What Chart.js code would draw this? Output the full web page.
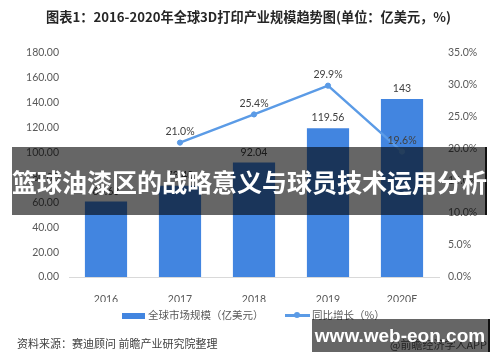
<!DOCTYPE html>
<html><head><meta charset="utf-8">
<script src="https://cdn.jsdelivr.net/npm/chart.js@4/dist/chart.umd.min.js"></script>
<style>
html,body{margin:0;padding:0;background:#fff;}
#wrap{position:relative;width:500px;height:362px;overflow:hidden;font-family:"Noto Sans CJK SC","Noto Sans",sans-serif;}
canvas{position:absolute;left:0;top:0;}
.abs{position:absolute;white-space:nowrap;}
#title{left:0;width:497px;top:7px;text-align:center;font-size:13.2px;font-weight:bold;color:#262626;line-height:20px;}
#src{left:17px;top:335px;font-size:11px;color:#404040;line-height:16px;}
#app{left:390px;top:336px;font-size:11px;color:#595959;line-height:16px;}
.leg{font-size:10.5px;color:#595959;line-height:14px;top:308px;}
#sw1{position:absolute;left:122px;top:313px;width:23px;height:6px;background:#4285e0;}
#sw2{position:absolute;left:285px;top:314px;width:25px;height:2.5px;background:#5b9be6;}
#sw2d{position:absolute;left:294px;top:312px;width:6px;height:6px;border-radius:3px;background:#5b9be6;}
#banner{left:12px;top:147px;width:473px;height:68px;background:rgba(0,0,0,0.6);border-right:2px solid #111;color:#fff;font-weight:bold;font-size:25px;line-height:68px;text-align:center;}
#wm{left:312px;top:319px;width:176px;height:33px;background:rgba(0,0,0,0.6);border-right:2px solid #111;color:#fff;font-weight:bold;font-family:"Liberation Sans",sans-serif;font-size:19px;line-height:33px;text-align:center;}
</style></head>
<body><div id="wrap">
<canvas id="c" width="500" height="362"></canvas>
<div id="title" class="abs">图表1：2016-2020年全球3D打印产业规模趋势图(单位：亿美元，%)</div>
<div id="sw1"></div><div class="abs leg" style="left:148px;">全球市场规模（亿美元）</div>
<div id="sw2"></div><div id="sw2d"></div><div class="abs leg" style="left:312px;">同比增长（%）</div>
<div id="src" class="abs">资料来源：赛迪顾问 前瞻产业研究院整理</div>
<div id="app" class="abs">@前瞻经济学人APP</div>
<div id="banner" class="abs">篮球油漆区的战略意义与球员技术运用分析</div>
<div id="wm" class="abs">www.web-eon.com</div>
</div>
<script>
const categories = ["2016","2017","2018","2019","2020E"];
const marketSize = [60.63, 73.40, 92.04, 119.56, 143];
const growthRate = [null, 21.0, 25.4, 29.9, 19.6];
const leftTicks = [0,20,40,60,80,100,120,140,160,180];
const rightTicks = [0,5,10,15,20,25,30,35];

const tickFont = {family:"Lato, 'Noto Sans', sans-serif", size:10.5};
const labelPlugin = {
  id:'vlabels',
  afterDatasetsDraw(chart){
    const ctx = chart.ctx;
    ctx.save();
    ctx.font = "10.5px Lato, 'Noto Sans', sans-serif";
    ctx.fillStyle = '#404040';
    ctx.textAlign = 'center';
    ctx.textBaseline = 'bottom';
    const bm = chart.getDatasetMeta(0);
    bm.data.forEach((el,i)=>{
      const v = marketSize[i];
      const s = Number.isInteger(v) ? String(v) : v.toFixed(2);
      ctx.fillText(s, el.x, el.y - 5);
    });
    const lm = chart.getDatasetMeta(1);
    lm.data.forEach((el,i)=>{
      const v = growthRate[i];
      if (v === null) return;
      ctx.fillText(v.toFixed(1)+'%', el.x, el.y - 6);
    });
    ctx.restore();
  }
};

new Chart(document.getElementById('c'), {
  data:{
    labels:categories,
    datasets:[
      {type:'bar', label:'全球市场规模（亿美元）', data:marketSize, yAxisID:'y', backgroundColor:'#4285e0', barPercentage:0.57, categoryPercentage:1, order:1},
      {type:'line', label:'同比增长（%）', data:growthRate, yAxisID:'y1', borderColor:'#5b9be6', backgroundColor:'#5b9be6', borderWidth:2.5, pointRadius:2.6, pointBorderWidth:1, pointHoverRadius:2.6, tension:0, spanGaps:false, order:0}
    ]
  },
  options:{
    responsive:false, animation:false, devicePixelRatio:1,
    layout:{padding:{top:53,bottom:60,left:0,right:0}},
    plugins:{legend:{display:false}, tooltip:{enabled:false}},
    scales:{
      x:{grid:{display:false}, border:{display:true,color:'#d9d9d9',width:1},
         ticks:{color:'#595959',font:tickFont,padding:8},
         afterFit(s){s.height=25;}},
      y:{position:'left', min:0, max:180, grid:{display:false,drawTicks:false}, border:{display:false},
         afterBuildTicks(s){s.ticks = leftTicks.map(v=>({value:v}));},
         ticks:{color:'#595959',font:tickFont,padding:10,callback:v=>Number(v).toFixed(2)},
         afterFit(s){s.width=69;}},
      y1:{position:'right', min:0, max:35, grid:{display:false,drawTicks:false}, border:{display:false},
         afterBuildTicks(s){s.ticks = rightTicks.map(v=>({value:v}));},
         ticks:{color:'#595959',font:tickFont,padding:9,callback:v=>Number(v).toFixed(1)+'%'},
         afterFit(s){s.width=61;}}
    }
  },
  plugins:[labelPlugin]
});
</script>
</body></html>
